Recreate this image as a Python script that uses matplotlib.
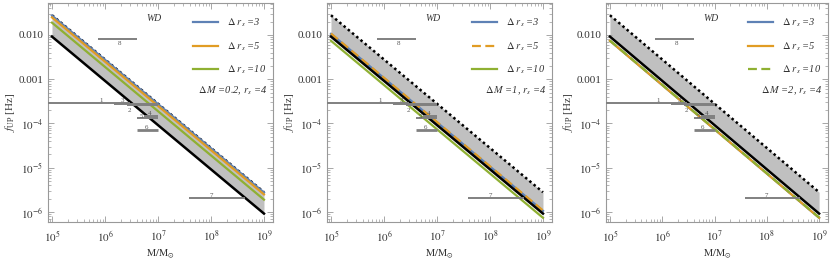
import matplotlib as mpl
mpl.use("Agg")
import matplotlib.pyplot as plt
from matplotlib.ticker import FixedLocator, FixedFormatter, LogLocator, NullFormatter

plt.rcParams['font.family'] = ['Liberation Serif', 'DejaVu Serif']
plt.rcParams['mathtext.fontset'] = 'stix'

# masses at both ends of the lines
M_ends = [1e5, 1e9]

# f_UP at the two ends for each panel
upper_dotted = [2.8e-2, 2.8e-6]
lower_solid = [9.2e-3, 9.2e-7]

panel_titles = ["$\\Delta\\,M$ =0.2, $r_s$ =4", "$\\Delta\\,M$ =1, $r_s$ =4", "$\\Delta\\,M$ =2, $r_s$ =4"]
blue_vals = [[2.75e-2, 2.75e-6], [1.06e-2, 1.06e-6], [7.4e-3, 7.4e-7]]
orange_vals = [[2.5e-2, 2.5e-6], [1.08e-2, 1.08e-6], [7.4e-3, 7.4e-7]]
green_vals = [[1.9e-2, 1.9e-6], [7.4e-3, 7.4e-7], [7.5e-3, 7.5e-7]]
orange_dash = [False, True, False]
green_dash = [False, False, True]
legend_labels = ["$\\Delta\\ r_s$ =3", "$\\Delta\\ r_s$ =5", "$\\Delta\\ r_s$ =10"]

# detector bands
band_names = ["1", "2", "3", "4", "5", "6", "7", "8"]
band_m0 = [1e4, 2.6e6, 1.5e6, 5.5e6, 4e6, 4e6, 3.8e7, 7.4e5]
band_m1 = [3e6, 1e7, 1e7, 1e7, 1e7, 1e7, 4.4e8, 4e6]
band_f = [2.9e-4, 2.65e-4, 2.8e-4, 1.5e-4, 1.3e-4, 7.1e-5, 2.1e-6, 8.1e-3]
band_lx = [8.5e5, 2.9e6, 2.1e6, 7e6, 4.8e6, 6e6, 1e8, 1.9e6]
band_ly = [3.3e-4, 2.0e-4, 3.3e-4, 1.65e-4, 1.42e-4, 8e-5, 2.4e-6, 6.3e-3]
band_lw = [1.4, 1.4, 1.4, 1.4, 1.4, 2.0, 1.4, 1.4]

blue = '#5E81B5'
orange = '#E19C24'
green = '#8FB032'
frame = '#999999'

fig = plt.figure(figsize=(8.3, 2.6), dpi=100)
lefts = [48 / 830, 327 / 830, 606 / 830]
widths = [225 / 830, 225 / 830, 222 / 830]

for i in range(3):
    ax = fig.add_axes([lefts[i], 1 - 222 / 260, widths[i], 219 / 260])
    ax.set_xscale('log')
    ax.set_yscale('log')
    ax.set_xlim(10 ** 4.925, 10 ** 9.17)
    ax.set_ylim(10 ** -6.226, 10 ** -1.277)

    ax.fill_between(M_ends, lower_solid, upper_dotted, color='#C0C0C0', lw=0, zorder=1)
    ax.plot(M_ends, upper_dotted, color='k', lw=1.8, ls=(0, (1, 1.2)), zorder=3)

    ax.plot(M_ends, blue_vals[i], color=blue, lw=1.6, zorder=4, label=legend_labels[0])
    ax.plot(M_ends, orange_vals[i], color=orange, lw=1.6, zorder=5,
            ls=(0, (4, 2)) if orange_dash[i] else '-', label=legend_labels[1])
    ax.plot(M_ends, green_vals[i], color=green, lw=1.6, zorder=6,
            ls=(0, (4, 2)) if green_dash[i] else '-', label=legend_labels[2])
    ax.plot(M_ends, lower_solid, color='k', lw=1.8, zorder=7)

    for name, m0, m1, f, lx, ly, lw in zip(band_names, band_m0, band_m1, band_f, band_lx, band_ly, band_lw):
        ax.plot([m0, m1], [f, f], color='#808080', lw=lw, zorder=8, solid_capstyle='butt')
        ax.text(lx, ly, name, fontsize=5, color='#555555', ha='center', va='center', zorder=9)

    ax.text(10 ** 6.93, 10 ** -1.62, "WD", fontsize=7, style='italic', color='#333333', ha='center', va='center')
    leg = ax.legend(loc='upper right', bbox_to_anchor=(1.0, 0.97), frameon=False, fontsize=7.5,
                    handlelength=2.4, labelspacing=1.05, handletextpad=0.8, borderaxespad=0.3)
    for t in leg.get_texts():
        t.set_color('#333333')
        t.set_style('italic')
    ax.text(0.975, 0.6, panel_titles[i], transform=ax.transAxes, fontsize=7.5, style='italic',
            color='#333333', ha='right', va='center')

    ax.xaxis.set_major_locator(FixedLocator([1e5, 1e6, 1e7, 1e8, 1e9]))
    ax.xaxis.set_major_formatter(FixedFormatter(['$10^{5}$', '$10^{6}$', '$10^{7}$', '$10^{8}$', '$10^{9}$']))
    ax.xaxis.set_minor_locator(LogLocator(base=10, subs=range(2, 10), numticks=20))
    ax.xaxis.set_minor_formatter(NullFormatter())
    ax.yaxis.set_major_locator(FixedLocator([1e-2, 1e-3, 1e-4, 1e-5, 1e-6]))
    ax.yaxis.set_major_formatter(FixedFormatter(['0.010', '0.001', '$10^{-4}$', '$10^{-5}$', '$10^{-6}$']))
    ax.yaxis.set_minor_locator(LogLocator(base=10, subs=range(2, 10), numticks=20))
    ax.yaxis.set_minor_formatter(NullFormatter())
    ax.tick_params(which='both', direction='in', top=True, right=True, color=frame, labelsize=8,
                   labelcolor='#333333')
    ax.tick_params(which='major', length=4, width=0.6)
    ax.tick_params(which='minor', length=2, width=0.5)
    ax.tick_params(axis='x', pad=5)
    for s in ax.spines.values():
        s.set_color(frame)
        s.set_linewidth(0.8)

    ax.set_xlabel(r'$\mathrm{M/M}_{\odot}$', fontsize=7.5, color='#333333', labelpad=3)
    ax.set_ylabel(r'$f_{\mathrm{UP}}$ [Hz]', fontsize=8, color='#333333', labelpad=1)

fig.savefig("out.png", dpi=100)
